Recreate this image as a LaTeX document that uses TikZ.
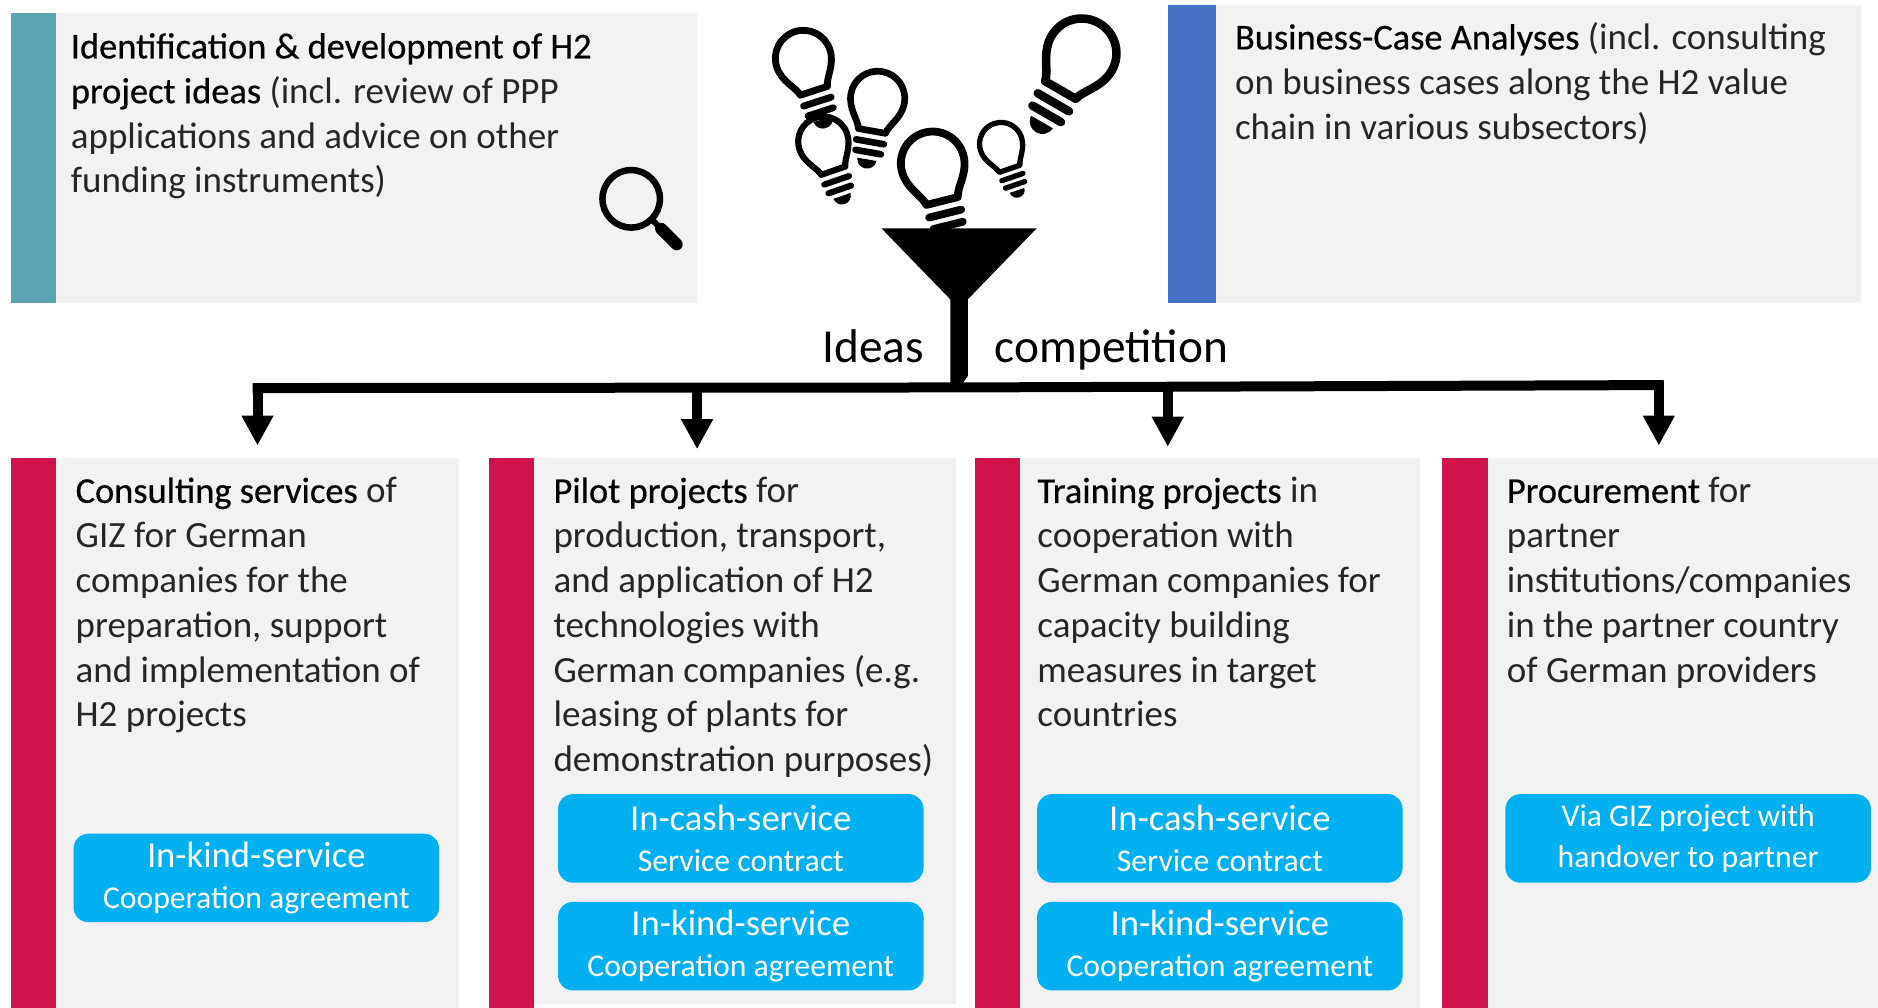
\documentclass[tikz,border=0pt]{standalone}
\usepackage{fontspec}
\setmainfont{Carlito}
\newfontfamily\emfont[FakeBold=0.5]{Carlito}
\usetikzlibrary{arrows.meta}
\definecolor{panelgray}{HTML}{F2F2F2}
\definecolor{crimson}{HTML}{D0134A}
\definecolor{tealbar}{HTML}{5BA3B0}
\definecolor{bluebar}{HTML}{4472C4}
\definecolor{pillblue}{HTML}{00B0F0}
\definecolor{bodytext}{HTML}{262626}
\newcommand{\hl}[1]{{\emfont\fontsize{36.4}{44.8}\selectfont\color{black}#1}}
\newcommand{\bulbicon}[4]{%
  \begin{scope}[shift={(#1,#2)},rotate=#3,scale=#4,line width={#4*0.26pt},black]
    \draw[line join=round] (-0.45,1.08) -- (0.45,1.08) .. controls (0.5,0.8) and (0.885,0.5) .. (0.885,0)
      .. controls (0.885,-0.49) and (0.49,-0.885) .. (0,-0.885)
      .. controls (-0.49,-0.885) and (-0.885,-0.49) .. (-0.885,0)
      .. controls (-0.885,0.5) and (-0.5,0.8) .. (-0.45,1.08) -- cycle;
    \draw[line cap=round] (-0.46,1.44) -- (0.46,1.44);
    \draw[line cap=round] (-0.42,1.78) -- (0.42,1.78);
    \fill (-0.32,2.02) -- (0.32,2.02) .. controls (0.28,2.42) and (-0.28,2.42) .. (-0.32,2.02) -- cycle;
  \end{scope}}
\tikzset{
  x=1.1977pt,y=-1.1977pt,
  bodynode/.style={anchor=north west,inner sep=0pt,align=left,text=bodytext,font=\fontsize{37}{44.8}\selectfont},
  pill/.style={fill=pillblue,rounded corners=15pt,minimum width=365.5pt,minimum height=88.6pt,inner sep=0pt,
    align=center,text=white,font=\fontsize{31.7}{41}\selectfont},
  bar/.style={line width=10pt,draw=black},
  arrowbar/.style={line width=10pt,draw=black,-{Triangle[length=30pt,width=30pt]}},
  bigword/.style={anchor=base,inner sep=0pt,text=black,font=\fontsize{47.3}{50}\selectfont}
}
\newcommand{\pillbig}{\fontsize{36.6}{41}\selectfont}
\begin{document}
\begin{tikzpicture}
\useasboundingbox (0,0) rectangle (1568,841.6);
% panels
\fill[panelgray] (9,11) rectangle (582,253);
\fill[tealbar] (9,11) rectangle (47,253);
\fill[panelgray] (975,4) rectangle (1554,253);
\fill[bluebar] (975,4) rectangle (1015,253);
\fill[panelgray] (9,382) rectangle (383,841.6);
\fill[crimson] (9,382) rectangle (47,841.6);
\fill[panelgray] (408,382) rectangle (798,838);
\fill[crimson] (408,382) rectangle (446,841.6);
\fill[panelgray] (814,382) rectangle (1186,841.6);
\fill[crimson] (814,382) rectangle (852,841.6);
\fill[panelgray] (1204,382) rectangle (1568,841.6);
\fill[crimson] (1204,382) rectangle (1242,841.6);
% top texts
\node[bodynode] (ident) at (59,27.5) {\hl{Identification \& development of H2}\\\hl{project ideas} (incl. review of PPP\\applications and advice on other\\funding instruments)};
\node[bodynode] (bca) at (1031,18.5) {\hl{Business-Case Analyses} (incl. consulting\\on business cases along the H2 value\\chain in various subsectors)};
% bottom texts
\node[bodynode] (cons) at (63,398.5) {\hl{Consulting services} of\\GIZ for German\\companies for the\\preparation, support\\and implementation of\\H2 projects};
\node[bodynode] (pilot) at (462,398.5) {\hl{Pilot projects} for\\production, transport,\\and application of H2\\technologies with\\German companies (e.g.\\leasing of plants for\\demonstration purposes)};
\node[bodynode] (train) at (866,398.5) {\hl{Training projects} in\\cooperation with\\German companies for\\capacity building\\measures in target\\countries};
\node[bodynode] (proc) at (1258,398.5) {\hl{Procurement} for\\partner\\institutions/companies\\in the partner country\\of German providers};
% pills
\node[pill] (p1) at (214,733) {{\pillbig In-kind-service}\\Cooperation agreement};
\node[pill] (p2) at (618.5,700) {{\pillbig In-cash-service}\\Service contract};
\node[pill] (p3) at (618.5,790) {{\pillbig In-kind-service}\\Cooperation agreement};
\node[pill] (p4) at (1018.5,700) {{\pillbig In-cash-service}\\Service contract};
\node[pill] (p5) at (1018.5,790) {{\pillbig In-kind-service}\\Cooperation agreement};
\node[pill] (p6) at (1409.5,700) {Via GIZ project with\\handover to partner};
% bulbs
\bulbicon{670.7}{48.7}{18}{26.4}
\bulbicon{732.8}{82.1}{-10}{25.6}
\bulbicon{687.4}{118.3}{19}{23.7}
\bulbicon{778.7}{136.4}{14}{30}
\bulbicon{835.8}{120.2}{19}{20.3}
\bulbicon{903.1}{44.5}{-30}{32.8}
% funnel
\fill[black] (736,190.7) -- (865.5,190.7) -- (808,250) -- (808,314) -- (800,325) -- (793.5,325) -- (793.5,250) -- cycle;
% words
\node[bigword] (ideas) at (729,303) {Ideas};
\node[bigword] (comp) at (928,303) {competition};
% connectors
\coordinate (hub) at (800,323.5);
\coordinate (j1) at (211,324);
\coordinate (j4) at (1389,321.5);
\coordinate (s1) at (215,320);
\coordinate (t1) at (215,372);
\coordinate (s2) at (582,323);
\coordinate (t2) at (582,375);
\coordinate (s3) at (975,322);
\coordinate (t3) at (975,373);
\coordinate (s4) at (1385,318);
\coordinate (t4) at (1385,372);
\draw[bar] (j1) -- (hub) -- (j4);
\draw[arrowbar] (s1) -- (t1);
\draw[arrowbar] (s2) -- (t2);
\draw[arrowbar] (s3) -- (t3);
\draw[arrowbar] (s4) -- (t4);
% magnifier
\draw[black,line width=6.5pt] (527,166) circle (24);
\draw[black,line width=6pt] (543,182) -- (551,190);
\draw[black,line width=12pt,line cap=round] (552,191) -- (565,204);
\end{tikzpicture}
\end{document}
